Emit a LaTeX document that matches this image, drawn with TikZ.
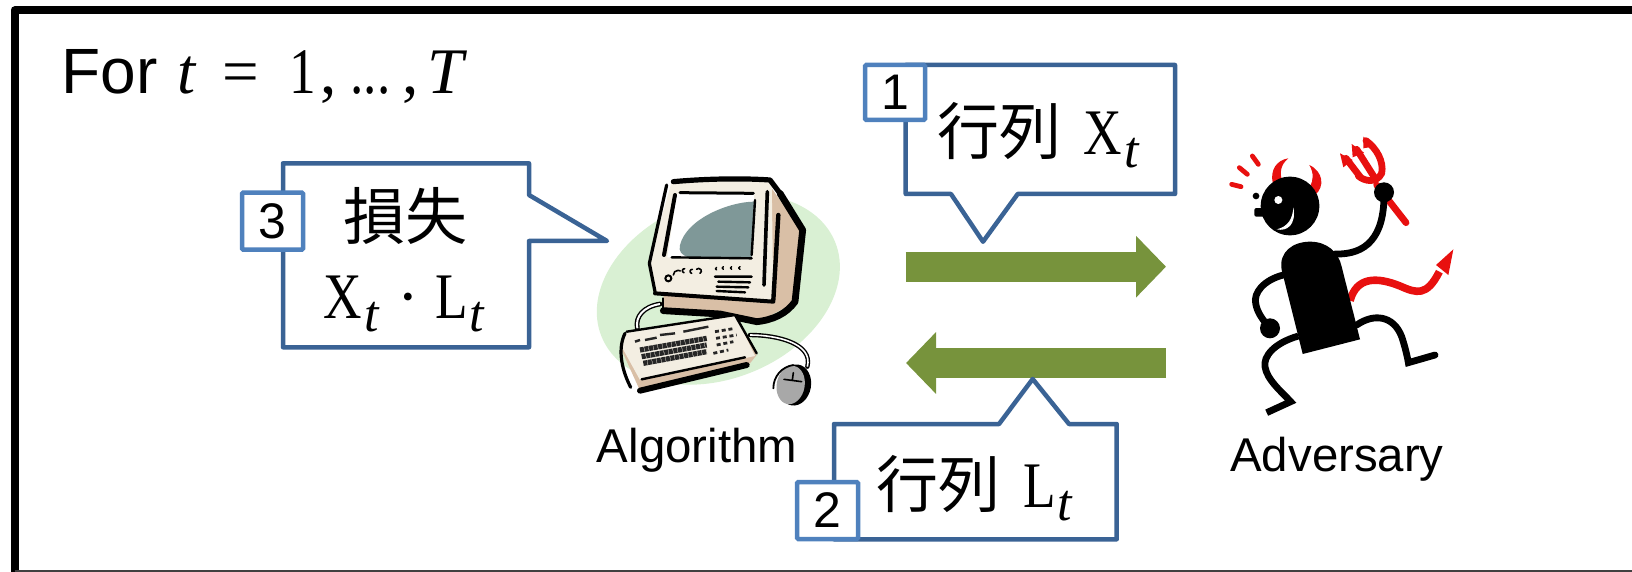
\documentclass[tikz,border=0pt]{standalone}
\usepackage[no-math]{fontspec}
\setmainfont{Liberation Sans}
\newfontfamily\cjk{Noto Sans CJK JP}
\newfontfamily\rmx[FakeStretch=0.82]{Liberation Serif}
\newfontfamily\upx{Liberation Serif}
\usetikzlibrary{arrows.meta}
\definecolor{callblue}{HTML}{3A6395}
\definecolor{boxblue}{HTML}{4F81BD}
\definecolor{arrowgreen}{HTML}{77933C}
\definecolor{pcgreen}{HTML}{D9F0D3}
\definecolor{pctan}{HTML}{D9BFA6}
\definecolor{pcbeige}{HTML}{F3EEE2}
\definecolor{pcscreen}{HTML}{7F9898}
\definecolor{pcgray}{HTML}{A8A8A8}
\definecolor{devred}{HTML}{E8100F}
\newcommand{\mt}[1]{\fontsize{#1}{#1}\selectfont}
\newcommand{\mR}[1]{{\fontsize{32.5}{32.5}\rmx #1}}
\newcommand{\mU}[1]{{\fontsize{32.5}{32.5}\upx #1}}
\newcommand{\mI}[1]{{\fontsize{32.5}{32.5}\upx\itshape #1}}
\newcommand{\subt}{\raisebox{-6.5pt}{\fontsize{26}{26}\upx\itshape t}}
\newcommand{\Xt}{\makebox[20.3pt][l]{\mR{X}}\subt}
\newcommand{\Lt}{\makebox[17pt][l]{\mR{L}}\subt}
\tikzset{
  callout/.style={draw=callblue,line width=2.25pt,line join=round,fill=white},
  numbox/.style={draw=boxblue,line width=2.25pt,rounded corners=0.6pt,fill=white,inner sep=0pt,font=\mt{25}},
  txt/.style={inner sep=0pt,anchor=base west,font=\mt{31}},
  lab/.style={inner sep=0pt,anchor=base,font=\mt{23.7}},
  bigarrow/.style={arrowgreen,line width=15pt,-{Triangle[length=15pt,width=30pt]}},
  ink/.style={black,line cap=round,line join=round},
  rd/.style={devred,line cap=round,line join=round},
}
\begin{document}
\begin{tikzpicture}[x=0.5pt,y=-0.5pt]
\useasboundingbox (0,0) rectangle (1632,572);
% frame
\draw[line width=4pt,line join=round] (1632,10.5) -- (14.5,10.5) -- (14.5,572);
\draw[line width=0.8pt,black!75] (14.5,571.2) -- (1632,571.2);
\node[inner sep=0pt,anchor=base west,font=\mt{32}] (title) at (61,94) {\makebox[58pt][l]{For}\makebox[22.5pt][l]{\mI{t}}\makebox[33.5pt][l]{\mU{=}}\makebox[15.5pt][l]{\mR{1}}\makebox[15pt][l]{\mU{,}}\makebox[26pt][l]{\mR{...}}\makebox[12.5pt][l]{\mU{,}}\mI{T}};

% computer clip art
\begin{scope}[shift={(560,150)},x=0.16667pt,y=-0.16667pt]
  \fill[pcgreen] (475,418) ellipse [x radius=378,y radius=268,rotate=22];
  \fill[pctan] (625,100) -- (725,245) -- (700,460) -- (595,515) -- (310,485) -- (310,435) -- cycle;
  \fill[pcbeige] (335,95) -- (635,90) -- (640,455) -- (285,430) -- (265,340) -- cycle;
  \fill[white] (350,132) -- (582,132) -- (575,322) -- (322,322) -- cycle;
  \fill[pcscreen] (360,285) .. controls (380,205) and (510,155) .. (582,155) -- (575,322) -- (385,322) .. controls (365,315) and (355,305) .. (360,285) -- cycle;
  \draw[ink,line width=2.6pt] (340,95) .. controls (450,85) and (560,85) .. (630,90) -- (660,130);
  \draw[ink,line width=3.4pt] (660,130) -- (728,240) -- (705,455) .. controls (680,490) and (640,510) .. (590,515) -- (480,492) -- (310,482);
  \draw[ink,line width=1.6pt] (320,105) -- (268,340) -- (285,425);
  \draw[ink,line width=2pt] (285,430) -- (640,455);
  \draw[ink,line width=1.8pt] (622,125) -- (612,405);
  \draw[ink,line width=2.2pt] (655,195) -- (640,450);
  \draw[ink,line width=1.5pt] (360,128) -- (580,130);
  \draw[ink,line width=2pt] (345,135) -- (312,315);
  \draw[ink,line width=1.2pt] (335,322) -- (575,325);
  \draw[ink,line width=1.2pt] (585,150) -- (575,315);
  \draw[ink,line width=1.1pt] (310,445) -- (310,482);
  % panel marks
  \draw[ink,line width=0.8pt] (340,375) arc (180:300:14) (372,368) arc (100:280:6) (395,370) arc (100:280:6) (420,370) arc (60:-140:8);
  \draw[ink,line width=1pt] (325,385) circle (9);
  \draw[ink,line width=0.7pt] (470,360) arc (90:270:4) (490,358) arc (90:270:4) (515,358) arc (90:270:4) (540,358) arc (90:270:4);
  \draw[ink,line width=1.2pt] (465,380) -- (575,380) (475,395) -- (570,397) (470,410) -- (565,412) (470,423) -- (555,427);
  % cables
  \draw[ink,line width=2.4pt] (300,462) .. controls (250,470) and (225,500) .. (232,535);
  \draw[white,line width=1pt] (300,462) .. controls (250,470) and (225,500) .. (232,535);
  \draw[ink,line width=2.2pt] (570,555) .. controls (650,555) and (760,580) .. (742,650);
  \draw[white,line width=0.8pt] (570,555) .. controls (650,555) and (760,580) .. (742,650);
  % keyboard
  \fill[pctan] (180,590) -- (240,722) -- (570,640) -- (590,615) -- (525,495) -- cycle;
  \fill[pcbeige] (200,548) -- (525,495) -- (585,618) -- (240,690) -- (185,590) -- cycle;
  \draw[ink,line width=1.2pt] (200,545) -- (525,495) -- (590,610);
  \draw[ink,line width=1.6pt] (195,550) .. controls (175,590) and (180,650) .. (212,712);
  \draw[ink,line width=1.2pt] (245,688) -- (555,622);
  \draw[ink,line width=3pt] (240,722) -- (560,645);
  \draw[black!85,line width=2.6pt,dash pattern=on 2pt off 0.3pt] (240,600) -- (440,565) (245,620) -- (440,585) (250,640) -- (440,605);
  \draw[black!85,line width=1.2pt] (225,575) -- (240,570) (255,570) -- (290,563) (300,555) -- (345,550) (370,545) -- (445,530);
  \draw[black!85,line width=1.4pt,dash pattern=on 2pt off 1.4pt] (465,545) -- (525,535) (468,565) -- (530,555) (470,585) -- (520,575) (460,610) -- (505,600);
  % mouse
  \fill[black] (705,705) ellipse [x radius=48,y radius=62,rotate=-10];
  \fill[pcgray] (692,705) ellipse [x radius=42,y radius=58,rotate=-10];
  \draw[ink,line width=0.8pt] (672,688) -- (725,695) (697,690) -- (700,668);
  \draw[ink,line width=0.9pt] (640,715) .. controls (640,680) and (665,650) .. (700,645);
\end{scope}

% devil clip art
\begin{scope}[shift={(1160,130)},x=0.16667pt,y=-0.16667pt]
  % red marks
  \draw[rd,line width=2.4pt] (215,163) -- (243,170) (238,113) -- (262,133) (277,78) -- (295,103);
  % horns
  \fill[devred] (338,158) .. controls (330,120) and (350,90) .. (385,85) .. controls (360,105) and (360,130) .. (365,150) -- cycle;
  \fill[devred] (465,195) .. controls (495,170) and (490,125) .. (448,105) .. controls (462,130) and (460,150) .. (450,170) -- cycle;
  % trident
  \draw[rd,line width=3.4pt] (650,165) -- (738,278);
  \draw[rd,line width=3.4pt] (595,138) .. controls (615,155) and (650,160) .. (665,130) .. controls (672,95) and (650,55) .. (618,32);
  \draw[rd,line width=3.4pt] (645,145) -- (590,58);
  \draw[rd,line width=3.4pt] (600,140) -- (558,85);
  \fill[devred] (610,20) -- (648,48) -- (610,55) -- cycle (575,42) -- (612,68) -- (578,82) -- cycle (540,70) -- (578,90) -- (550,112) -- cycle;
  % tail
  \draw[rd,line width=3.8pt,line cap=butt] (570,512) .. controls (590,440) and (650,440) .. (720,468) .. controls (770,490) and (800,500) .. (838,425);
  \fill[devred] (880,358) -- (828,405) -- (865,435) -- cycle;
  % limbs
  \draw[ink,line width=3.4pt] (525,372) .. controls (620,375) and (672,320) .. (672,195);
  \draw[ink,line width=3.4pt] (370,435) .. controls (310,450) and (280,490) .. (287,520) .. controls (292,550) and (310,570) .. (325,590);
  \draw[ink,line width=3.4pt,line join=miter,line cap=butt] (415,618) .. controls (340,640) and (310,680) .. (315,710) .. controls (320,750) and (370,790) .. (392,815) -- (320,848);
  \draw[ink,line width=3.4pt,line join=miter] (590,585) .. controls (640,550) and (700,555) .. (725,620) .. controls (735,650) and (742,680) .. (745,698) -- (825,675);
  % body and head
  \fill[black] (428,672) -- (365,420) .. controls (355,365) and (400,335) .. (450,335) .. controls (500,335) and (535,365) .. (545,410) -- (600,628) -- cycle;
  \fill[black] (390,228) circle (88);
  \fill[black,rounded corners=1pt] (283,234) rectangle (320,260);
  \fill[black] (288,198) circle (10);
  \fill[white] (355,210) circle (12);
  \fill[white] (400,232) .. controls (398,265) and (385,290) .. (350,298) .. controls (380,305) and (410,285) .. (400,232) -- cycle;
  \fill[black] (672,187) circle (30);
  \fill[black] (330,595) circle (30);
\end{scope}

\node[lab] (alg) at (697,462) {Algorithm};
\node[lab] (adv) at (1337,471.5) {Adversary};

% arrows
\coordinate (a1s) at (905.7,266.7);
\coordinate (a1e) at (1166,266.7);
\coordinate (a2s) at (1166,363);
\coordinate (a2e) at (906,363);
\draw[bigarrow] (a1s) -- (a1e);
\draw[bigarrow] (a2s) -- (a2e);

% callout 1
\draw[callout] (905.7,65) -- (1175,65) -- (1175,194) -- (1017.7,194) -- (983,241.7) -- (951,194) -- (905.7,194) -- cycle;
\node[numbox,minimum width=30pt,minimum height=27.5pt] (b1) at (895,92.5) {1};
\node[txt] (t1) at (937,155) {\makebox[73pt][l]{\cjk 行列}\Xt};

% callout 2
\draw[callout] (834,424) -- (999,424) -- (1032.7,379) -- (1069,424) -- (1116.7,424) -- (1116.7,539.3) -- (834,539.3) -- cycle;
\node[numbox,minimum width=30.5pt,minimum height=28.5pt] (b2) at (827.5,510.5) {2};
\node[txt] (t2) at (876,507.7) {\makebox[73.5pt][l]{\cjk 行列}\Lt};

% callout 3
\draw[callout] (283,163.3) -- (529,163.3) -- (529,195) -- (607,241) -- (529,241) -- (529,347.3) -- (283,347.3) -- cycle;
\node[numbox,minimum width=30.5pt,minimum height=28.5pt] (b3) at (272.5,221.2) {3};
\node[inner sep=0pt,anchor=base,font=\mt{31}] (t3a) at (405.7,240) {\cjk 損失};
\node[inner sep=0pt,anchor=base west,font=\mt{31}] (t3b) at (323,318) {\makebox[36pt][l]{\Xt}\makebox[13pt][c]{\mU{·}}\hspace{7pt}\Lt};
\end{tikzpicture}
\end{document}
